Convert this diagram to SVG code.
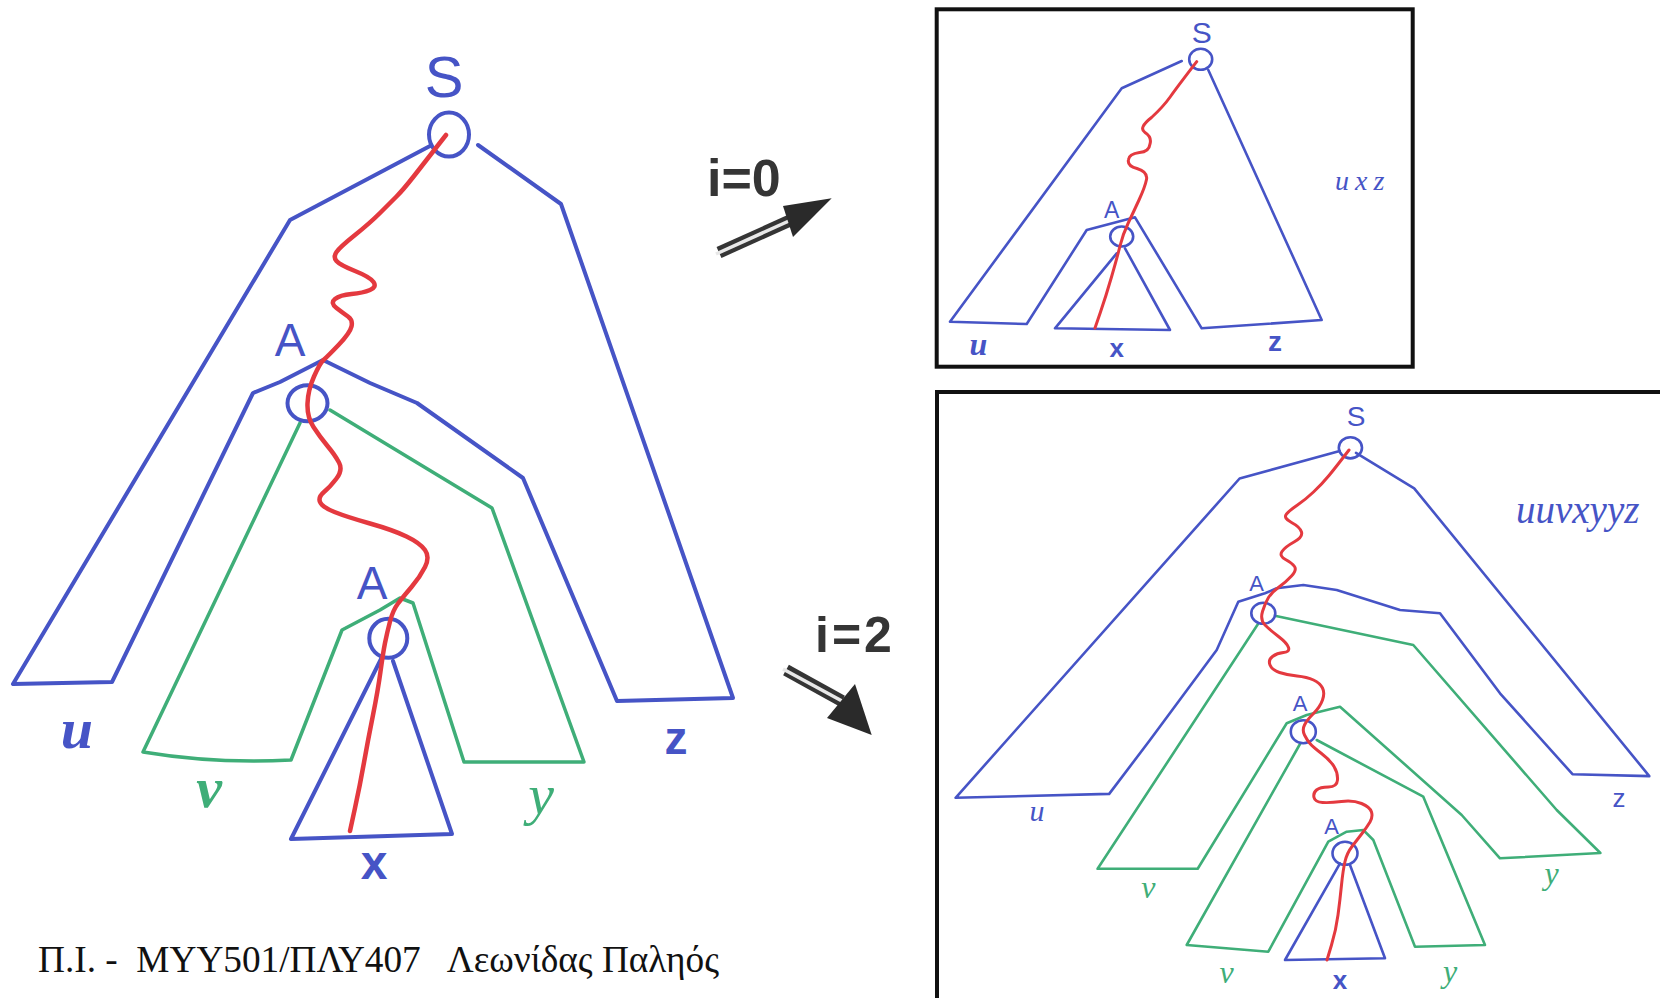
<svg xmlns="http://www.w3.org/2000/svg" width="1660" height="998" viewBox="0 0 1660 998">
<style>
.b{fill:none;stroke:#4654c6;stroke-width:4;stroke-linejoin:round;stroke-linecap:round}
.g{fill:none;stroke:#3fae78;stroke-width:3.5;stroke-linejoin:round;stroke-linecap:round}
.r{fill:none;stroke:#e4393f;stroke-width:4.5;stroke-linejoin:round;stroke-linecap:round}
.bt{fill:none;stroke:#4654c6;stroke-width:2.6;stroke-linejoin:round;stroke-linecap:round}
.gt{fill:none;stroke:#3fae78;stroke-width:2.6;stroke-linejoin:round;stroke-linecap:round}
.rt{fill:none;stroke:#e4393f;stroke-width:3;stroke-linejoin:round;stroke-linecap:round}
.frame{fill:none;stroke:#111;stroke-width:4}
.tb{font-family:"Liberation Sans",Arial,sans-serif;fill:#4654c6;text-anchor:middle}
.hb{font-family:"Liberation Serif","Times New Roman",serif;font-style:italic;fill:#4654c6;text-anchor:middle}
.hg{font-family:"Liberation Serif","Times New Roman",serif;font-style:italic;fill:#3fae78;text-anchor:middle}
.ar{font-family:"Liberation Sans",Arial,sans-serif;font-weight:bold;fill:#353535}
.cap{font-family:"Liberation Serif","Times New Roman",serif;fill:#111;font-size:37px}
</style>
<rect width="1660" height="998" fill="#ffffff"/>

<g id="tree-main">
  <path class="b" d="M430,146 L290,220 L13,684 L112,682 L253,393 L280,382 L323,360 L370,383 L417,403 L523,478 L617,701 L733,698 L561,204 L478,145"/>
  <path class="g" d="M300,423 L143,752 Q215,764 291,760 L342,630 L380,610 L400,598 L413,603 L464,762 L584,762 L492,508 L330,410"/>
  <path class="b" d="M382,657 L291,839 L452,834 L393,661"/>
  <g id="main-S"><ellipse class="b" cx="449" cy="134.6" rx="20" ry="22"/><text class="tb" x="444" y="97" font-size="58">S</text></g>
  <g id="main-A1"><ellipse class="b" cx="307.5" cy="403.3" rx="20" ry="18"/><text class="tb" x="290" y="356" font-size="46">A</text></g>
  <g id="main-A2"><ellipse class="b" cx="388.3" cy="638.3" rx="19" ry="19.5"/><text class="tb" x="372" y="599" font-size="46">A</text></g>
  <path class="r" d="M446,135 Q425,162 414,176 Q403,190 396.5,196.5 Q390,203 380,213 Q370,223 355,235 Q340,247 336.5,252 Q333,257 336.5,261 Q340,265 355,271 Q370,277 373.5,282 Q377,287 370,290 Q363,293 351.5,294 Q340,295 335,299 Q330,303 336.5,308 Q343,313 348,316.5 Q353,320 351.5,326.5 Q350,333 338.5,345 Q327,357 323.5,360 Q320,363 314,376.5 Q308,390 307.5,403.5 Q307,417 313.5,427 Q320,437 327.5,446 Q335,455 339,462.5 Q343,470 336.5,478.5 Q330,487 324,492 Q318,497 320,502 Q322,507 334.5,512 Q347,517 370,523.5 Q393,530 406.5,536.5 Q420,543 425,550 Q430,557 425,567 Q420,577 411.5,587 Q403,597 398,603.5 Q393,610 390,621.5 Q387,633 385,643 Q383,653 380.5,671.5 Q378,690 373,715 Q368,740 364,762.5 Q360,785 355,808 L350,831"/>
  <g id="main-labels">
    <text class="hb" x="77" y="748" font-size="58" font-weight="bold">u</text>
    <text class="hg" x="209" y="807" font-size="58" font-weight="bold">v</text>
    <text class="tb" x="374" y="879" font-size="48" font-weight="bold">x</text>
    <text class="hg" x="541" y="814" font-size="58">y</text>
    <text class="tb" x="676" y="754" font-size="46" font-weight="bold">z</text>
  </g>
</g>

<g id="connectors">
  <g id="arrow-i0">
    <path d="M719,252.5 L790,220.5" stroke="#353535" stroke-width="12" fill="none"/>
    <path d="M716,254 L790,220.5" stroke="#e8e8e8" stroke-width="3.5" fill="none"/>
    <polygon points="831.7,198.3 783,206 793,237" fill="#2a2a2a"/>
    <text class="ar" x="707" y="196" font-size="52">i=0</text>
  </g>
  <g id="arrow-i2">
    <path d="M786,670 L842,701" stroke="#353535" stroke-width="12" fill="none"/>
    <path d="M783,669 L842,701" stroke="#e8e8e8" stroke-width="3.5" fill="none"/>
    <polygon points="871.7,735 855,684 827,718" fill="#2a2a2a"/>
    <text class="ar" x="815" y="652" font-size="50" letter-spacing="3">i=2</text>
  </g>
</g>

<g id="box-i0">
  <rect class="frame" x="936.7" y="9.3" width="476" height="357.4"/>
  <path class="bt" d="M1181.7,61 L1121.7,88.3 L950,321.7 L1026.7,324 L1086.7,230 L1135,217.3 L1201.7,328.3 L1321.7,320 L1208.3,70"/>
  <path class="bt" d="M1116.7,253.3 L1055,328.3 L1170,330 L1125,248.3"/>
  <g id="i0-S"><ellipse class="bt" cx="1200.7" cy="59.3" rx="11.5" ry="10.5"/><text class="tb" x="1201.7" y="42.5" font-size="30">S</text></g>
  <g id="i0-A"><ellipse class="bt" cx="1121.7" cy="236.5" rx="11.5" ry="10"/><text class="tb" x="1111.7" y="218" font-size="23">A</text></g>
  <path class="rt" d="M1196.7,61.7 Q1178,86 1170.5,96.5 Q1163,107 1151.5,117.5 Q1138,128 1145,132.5 Q1152,137 1150,144 Q1149,152 1139.5,152.5 Q1129,154 1128.5,159.5 Q1127,166 1137,168.5 Q1148,172 1146.5,179.5 Q1145,187 1139,200 Q1133,213 1128,223.5 Q1123,234 1120,246 Q1117,258 1111.5,277 Q1106,296 1100.5,312 L1095,328"/>
  <text class="hb" x="978.3" y="354.5" font-size="32" font-weight="bold">u</text>
  <text class="tb" x="1116.7" y="357" font-size="26" font-weight="bold">x</text>
  <text class="tb" x="1275" y="350.5" font-size="28" font-weight="bold">z</text>
  <text class="hb" x="1335" y="190" font-size="28" letter-spacing="6" style="text-anchor:start">uxz</text>
</g>

<g id="box-i2">
  <rect class="frame" x="937" y="392" width="760" height="650"/>
  <path class="bt" d="M1339.7,451 L1239.6,478.5 L955.6,797.8 L1109.2,793.9 L1150,740 L1216.7,650 L1238.3,601.7 L1265,593.3 L1276.7,588.3 L1303.3,585 L1336.7,590 L1400,610 L1440,613.3 L1500,693.3 L1572.5,774.2 L1649.3,776.1 L1414.2,488.4 L1356,452.9"/>
  <path class="gt" d="M1258,624 L1097.6,868.8 L1197.7,868.8 L1286.7,723.3 L1306.7,715 L1326.7,710 L1340,706.7 L1461.7,815 L1500,858.3 L1600.4,853 L1556.7,810 L1413.3,645 L1276,616"/>
  <path class="gt" d="M1300,744 L1186.7,945 L1268.3,951.7 L1328.3,841.7 L1346.7,831.7 L1363.3,830 L1373.3,840 L1415,946.7 L1485,945 L1423.3,796.7 L1316.7,740"/>
  <path class="bt" d="M1340,863.3 L1285,960 L1385,958.3 L1350,865"/>
  <g id="i2-S"><ellipse class="bt" cx="1350.4" cy="447.8" rx="11.6" ry="10.6"/><text class="tb" x="1356" y="425.5" font-size="28">S</text></g>
  <g id="i2-A1"><ellipse class="bt" cx="1263.3" cy="613.3" rx="12" ry="10.5"/><text class="tb" x="1256.7" y="591" font-size="22">A</text></g>
  <g id="i2-A2"><ellipse class="bt" cx="1303.3" cy="731.7" rx="12.5" ry="11.5"/><text class="tb" x="1300" y="711" font-size="22">A</text></g>
  <g id="i2-A3"><ellipse class="bt" cx="1345" cy="853.3" rx="12.5" ry="11.5"/><text class="tb" x="1331.7" y="834" font-size="22">A</text></g>
  <path class="rt" d="M1349,450 Q1336,467 1329,475.5 Q1322,484 1313.5,492 Q1305,500 1297.5,505 Q1290,510 1286.5,514 Q1283,518 1291.5,522.5 Q1300,527 1301.5,532 Q1303,537 1294,542 Q1285,547 1282,551.5 Q1279,556 1285.5,559.5 Q1292,563 1294.5,566.5 Q1297,570 1291.5,576 Q1286,582 1279,587 Q1272,592 1268.5,597.5 Q1265,603 1262.5,611.5 Q1260,620 1265,625 Q1270,630 1278.5,636.5 Q1287,643 1288.5,647.5 Q1290,652 1283.5,652.5 Q1277,653 1272.5,656.5 Q1268,660 1270,665 Q1272,670 1279.5,672.5 Q1287,675 1297,676 Q1307,677 1313.5,680 Q1320,683 1322.5,688 Q1325,693 1322.5,700 Q1320,707 1313.5,713.5 Q1307,720 1304.5,725 Q1302,730 1304.5,735 Q1307,740 1310,743.5 Q1313,747 1321.5,753.5 Q1330,760 1334,766.5 Q1338,773 1337.5,780 Q1337,787 1328.5,787 Q1320,787 1316.5,790 Q1313,793 1314,797.5 Q1315,802 1322.5,802.5 Q1330,803 1341.5,801.5 Q1353,800 1361.5,803.5 Q1370,807 1371.5,812 Q1373,817 1370,822 Q1367,827 1362,833.5 Q1357,840 1352,846.5 Q1347,853 1345,861.5 Q1343,870 1341.5,885 Q1340,900 1338,915 Q1336,930 1331.5,945 L1327,960"/>
  <text class="hb" x="1037" y="821" font-size="30">u</text>
  <text class="hg" x="1148.3" y="898" font-size="32">v</text>
  <text class="hg" x="1226.7" y="983" font-size="32">v</text>
  <text class="tb" x="1340" y="989" font-size="26" font-weight="bold">x</text>
  <text class="hg" x="1450" y="982" font-size="32">y</text>
  <text class="hg" x="1551.5" y="884" font-size="32">y</text>
  <text class="tb" x="1619" y="807" font-size="26">z</text>
  <text class="hb" x="1516" y="523" font-size="39" style="text-anchor:start">uuvxyyz</text>
</g>

<g id="caption">
  <text class="cap" x="38" y="972" xml:space="preserve" textLength="681" lengthAdjust="spacingAndGlyphs">Π.Ι. -  ΜΥΥ501/ΠΛΥ407   Λεωνίδας Παληός</text>
</g>
</svg>
